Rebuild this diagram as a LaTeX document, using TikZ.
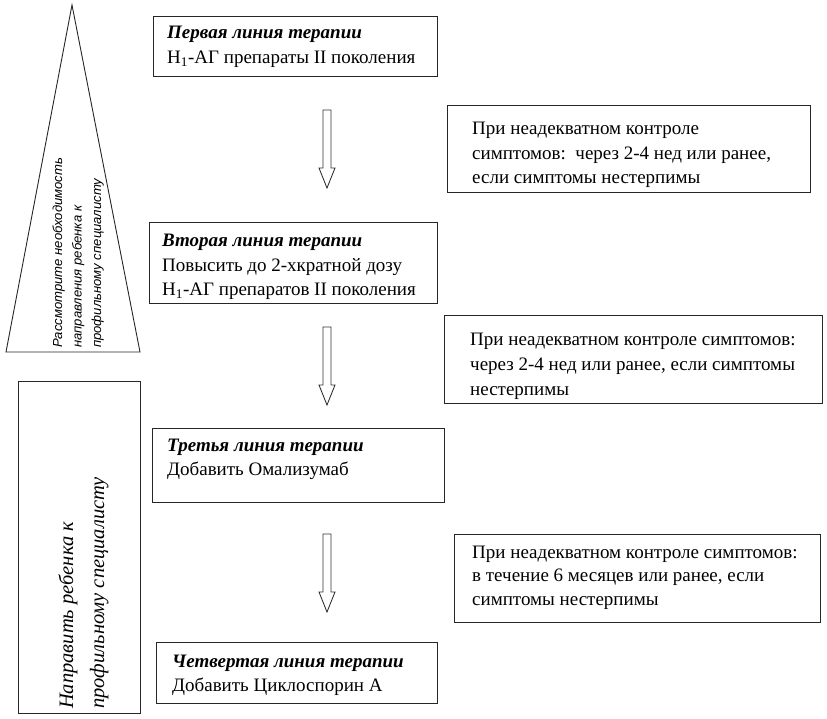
\documentclass[tikz,border=0pt]{standalone}
\usepackage{fontspec}
\setmainfont{Liberation Serif}
\newfontfamily\trifont{Liberation Sans}
\newcommand\mylines[2]{\vtop{\baselineskip=#1\lineskiplimit=-100pt\halign{##\hfil\cr #2\crcr}}}
\newcommand\hdr[1]{\textbf{\textit{#1}}}
\begin{document}
\begin{tikzpicture}[x=1pt,y=-1pt,
  boxst/.style={draw=black!85, line width=1.2pt, anchor=north west, inner sep=0pt},
  txt/.style={anchor=base west, inner sep=0pt, font=\fontsize{19}{24.5}\selectfont},
  shape tri/.style={draw=black!85, line width=0.9pt},
  downarrow/.pic={\draw[draw=black!80, line width=0.9pt, line join=miter] (-4,0) -- (4,0) -- (4,58) -- (8,58) -- (0,78) -- (-8,58) -- (-4,58) -- cycle;}
]
\useasboundingbox (0,0) rectangle (827,719);
% triangle and its text
\draw[shape tri] (72,5) -- (140,352) -- (6,352) -- cycle;
\node[anchor=base west, inner sep=0pt, rotate=90, font=\trifont\itshape\fontsize{13.1}{19.5}\selectfont] (tritext) at (62,348)
  {\mylines{19.5pt}{Рассмотрите необходимость\cr направления ребенка к\cr профильному специалисту}};
% left box
\node[boxst, minimum width=122pt, minimum height=332pt] (refer) at (18,381) {};
\node[txt, rotate=90, font=\itshape\fontsize{20.5}{31}\selectfont] (refertext) at (73,709)
  {\mylines{31pt}{Направить ребенка к\cr профильному специалисту}};
% main boxes
\node[boxst, minimum width=284pt, minimum height=60pt] (b1) at (153,16) {};
\node[txt] (t1) at (167,39) {\mylines{24.5pt}{\hdr{Первая линия терапии}\cr Н\textsubscript{1}-АГ препараты II поколения}};
\node[boxst, minimum width=288pt, minimum height=81pt] (b2) at (149,222) {};
\node[txt] (t2) at (162,247) {\mylines{24.5pt}{\hdr{Вторая линия терапии}\cr Повысить до 2-хкратной дозу\cr Н\textsubscript{1}-АГ препаратов II поколения}};
\node[boxst, minimum width=292pt, minimum height=74pt] (b3) at (152,428) {};
\node[txt] (t3) at (167,451) {\mylines{24.5pt}{\hdr{Третья линия терапии}\cr Добавить Омализумаб}};
\node[boxst, minimum width=281pt, minimum height=61pt] (b4) at (156,642) {};
\node[txt] (t4) at (172,667) {\mylines{24.5pt}{\hdr{Четвертая линия терапии}\cr Добавить Циклоспорин А}};
% side boxes
\node[boxst, minimum width=363pt, minimum height=87pt] (s1) at (447,105) {};
\node[txt] (st1) at (472,135) {\mylines{24.5pt}{При неадекватном контроле\cr симптомов:\ \ через 2-4 нед или ранее,\cr если симптомы нестерпимы}};
\node[boxst, minimum width=378pt, minimum height=88pt] (s2) at (444,315) {};
\node[txt] (st2) at (470,345) {\mylines{25pt}{При неадекватном контроле симптомов:\cr через 2-4 нед или ранее, если симптомы\cr нестерпимы}};
\node[boxst, minimum width=366pt, minimum height=88pt] (s3) at (454,534) {};
\node[txt] (st3) at (472,558) {\mylines{23.5pt}{При неадекватном контроле симптомов:\cr в течение 6 месяцев или ранее, если\cr симптомы нестерпимы}};
% block arrows
\pic at (327,110) {downarrow};
\pic at (327,327) {downarrow};
\pic at (327,534) {downarrow};
\end{tikzpicture}
\end{document}
